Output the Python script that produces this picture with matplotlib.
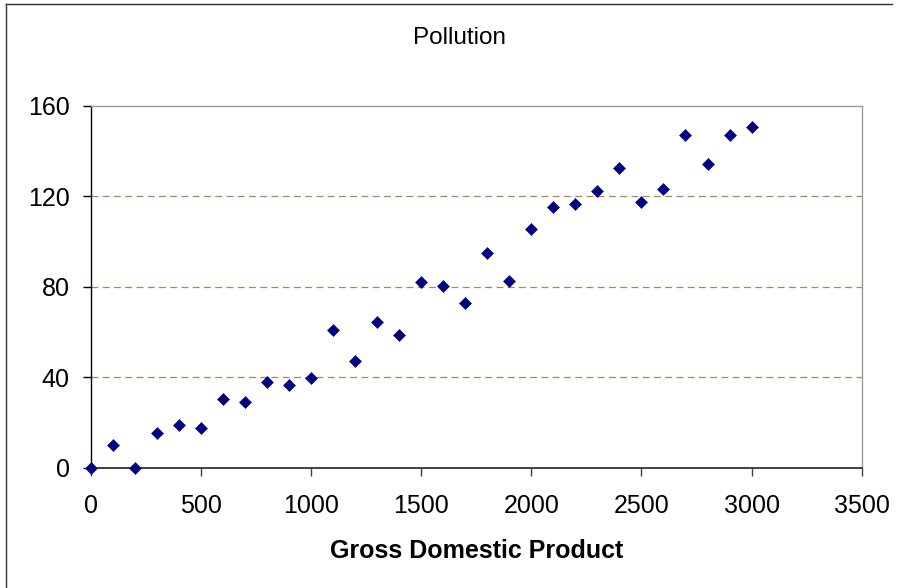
import matplotlib
matplotlib.use("Agg")
import matplotlib.pyplot as plt
from matplotlib.lines import Line2D

plt.rcParams['font.family'] = ['Liberation Sans', 'DejaVu Sans']

# Gross domestic product vs. pollution observations
gdp = [0, 100, 200, 300, 400, 500, 600, 700, 800, 900, 1000,
       1100, 1200, 1300, 1400, 1500, 1600, 1700, 1800, 1900, 2000,
       2100, 2200, 2300, 2400, 2500, 2600, 2700, 2800, 2900, 3000]
pollution = [0, 10, 0, 15.5, 19, 17.7, 30.4, 29, 37.7, 36.7, 39.5,
             60.7, 47.3, 64.3, 58.7, 81.9, 80.5, 72.8, 94.8, 82.7, 105.4,
             115.2, 116.7, 122.3, 132.3, 117.4, 123, 147, 134.4, 147, 150.6]

x_ticks = [0, 500, 1000, 1500, 2000, 2500, 3000, 3500]
y_ticks = [0, 40, 80, 120, 160]

W, H = 901, 588
fig = plt.figure(figsize=(W / 100, H / 100), dpi=100)
ax = fig.add_axes([90.7 / W, 1 - 467.7 / H, 771 / W, 362 / H])

ax.set_xlim(0, 3500)
ax.set_ylim(0, 160)
ax.set_xticks(x_ticks)
ax.set_yticks(y_ticks)

# dashed horizontal gridlines
for yv in y_ticks[1:-1]:
    ax.axhline(yv, color='#b08458', linestyle=(0, (5.5, 3.5)), linewidth=0.9, zorder=1)

ax.plot(gdp, pollution, linestyle='none', marker='D', markersize=6.0,
        color='#000080', markeredgecolor='#000080', markeredgewidth=0.4,
        clip_on=False, zorder=5)

ax.spines['left'].set_color('black')
ax.spines['bottom'].set_color('#404040')
ax.spines['top'].set_color('#9a9a9a')
ax.spines['right'].set_color('#9a9a9a')
for s in ax.spines.values():
    s.set_linewidth(1.0)
ax.spines['bottom'].set_linewidth(1.4)

ax.tick_params(axis='y', direction='out', length=6, width=1.0, color='black',
               labelsize=18, pad=9)
ax.tick_params(axis='x', direction='out', length=6, width=1.0, color='#404040',
               labelsize=18, pad=13)

ax.set_xlabel('Gross Domestic Product', fontsize=18, fontweight='bold', labelpad=15)
fig.text(459.7 / W, 1 - 37.5 / H, 'Pollution', fontsize=17.5, ha='center', va='center')

# outer frame lines (left and top)
fig.add_artist(Line2D([5.5 / W, 5.5 / W], [0, 1 - 4 / H], transform=fig.transFigure,
                      color='#303030', linewidth=1.0))
fig.add_artist(Line2D([5.5 / W, 892 / W], [1 - 4 / H, 1 - 4 / H], transform=fig.transFigure,
                      color='#303030', linewidth=1.0))

fig.savefig('out.png', dpi=100)
